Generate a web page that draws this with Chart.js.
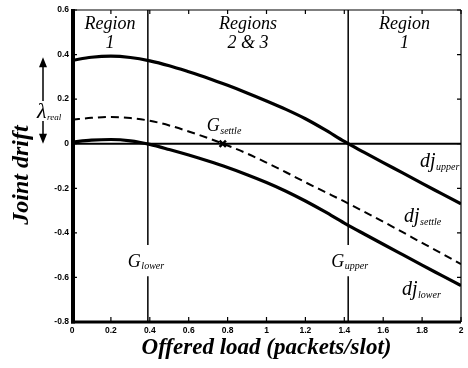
<!DOCTYPE html>
<html>
<head>
<meta charset="utf-8">
<script src="https://cdn.jsdelivr.net/npm/chart.js@4/dist/chart.umd.min.js"></script>
<style>
  html, body { margin: 0; padding: 0; background: #fff; }
  #wrap { width: 468px; height: 368px; }
</style>
</head>
<body>
<div id="wrap"><canvas id="c" width="468" height="368"></canvas></div>
<script>
// Offered load (packets/slot)
const loadX = [0, 0.1, 0.2, 0.3, 0.4, 0.5, 0.6, 0.7, 0.8, 0.9, 1.0,
               1.1, 1.2, 1.3, 1.4, 1.5, 1.6, 1.7, 1.8, 1.9, 2.0];
// Joint drift curves
const djUpper  = [0.374, 0.388, 0.393, 0.387, 0.372, 0.350, 0.323, 0.294, 0.262, 0.228, 0.192,
                  0.154, 0.112, 0.063, 0.010, -0.038, -0.085, -0.131, -0.178, -0.224, -0.270];
const djSettle = [0.108, 0.116, 0.120, 0.115, 0.103, 0.082, 0.055, 0.025, -0.008, -0.044, -0.085,
                  -0.128, -0.173, -0.216, -0.259, -0.304, -0.350, -0.397, -0.445, -0.492, -0.540];
const djLower  = [0.007, 0.016, 0.019, 0.013, -0.003, -0.026, -0.051, -0.078, -0.107, -0.139, -0.174,
                  -0.213, -0.257, -0.305, -0.356, -0.404, -0.451, -0.498, -0.545, -0.591, -0.637];
// Operating points
const gLower = 0.39;
const gSettle = 0.775;
const gUpper = 1.42;
// Vertical markers are interrupted around their labels
const markerGapTop = -0.455;
const markerGapBottom = -0.595;

const xMin = 0, xMax = 2, xStep = 0.2;
const yMin = -0.8, yMax = 0.6, yStep = 0.2;

const pts = (ys) => loadX.map((x, i) => ({ x: x, y: ys[i] }));
const vMarker = (g) => [
  { x: g, y: yMax }, { x: g, y: markerGapTop },
  { x: g, y: null },
  { x: g, y: markerGapBottom }, { x: g, y: yMin }
];
const tickLabel = (v) => String(Number(Number(v).toFixed(1)));

const SERIF = '"Liberation Serif", "Times New Roman", serif';
const SANS = '"Liberation Sans", Arial, sans-serif';

function subText(ctx, main, sub, x, y, mainSize, subSize, subDrop) {
  ctx.font = 'italic ' + mainSize + 'px ' + SERIF;
  ctx.textAlign = 'left';
  ctx.textBaseline = 'alphabetic';
  ctx.fillText(main, x, y);
  const w = ctx.measureText(main).width;
  ctx.font = 'italic ' + subSize + 'px ' + SERIF;
  ctx.fillText(sub, x + w + 0.5, y + subDrop);
}

const framePlugin = {
  id: 'frame',
  afterDraw(chart) {
    const ctx = chart.ctx;
    const a = chart.chartArea;
    const xs = chart.scales.x, ys = chart.scales.y;
    ctx.save();
    ctx.strokeStyle = '#000';
    ctx.fillStyle = '#000';

    // box
    ctx.lineWidth = 1.2;
    ctx.beginPath();
    ctx.moveTo(a.left, a.top); ctx.lineTo(a.right, a.top);
    ctx.moveTo(a.right, a.top); ctx.lineTo(a.right, a.bottom);
    ctx.stroke();
    ctx.lineWidth = 4;
    ctx.beginPath();
    ctx.moveTo(a.left + 1, a.top - 1); ctx.lineTo(a.left + 1, a.bottom + 1.5);
    ctx.stroke();
    ctx.lineWidth = 3;
    ctx.beginPath();
    ctx.moveTo(a.left - 1, a.bottom); ctx.lineTo(a.right, a.bottom);
    ctx.stroke();

    // inward ticks
    ctx.lineWidth = 1.2;
    ctx.beginPath();
    xs.ticks.forEach(t => {
      const px = xs.getPixelForValue(t.value);
      ctx.moveTo(px, a.bottom); ctx.lineTo(px, a.bottom - 5);
      ctx.moveTo(px, a.top); ctx.lineTo(px, a.top + 4);
    });
    ys.ticks.forEach(t => {
      const py = ys.getPixelForValue(t.value);
      ctx.moveTo(a.left, py); ctx.lineTo(a.left + 5, py);
      ctx.moveTo(a.right, py); ctx.lineTo(a.right - 4, py);
    });
    ctx.stroke();

    // y-axis title
    ctx.save();
    ctx.translate(22, 175);
    ctx.rotate(-Math.PI / 2);
    ctx.font = 'italic bold 24px ' + SERIF;
    ctx.textAlign = 'center';
    ctx.textBaseline = 'middle';
    ctx.fillText('Joint drift', 0, 0);
    ctx.restore();

    // region labels
    ctx.font = 'italic 18px ' + SERIF;
    ctx.textAlign = 'center';
    ctx.textBaseline = 'alphabetic';
    const xL = xs.getPixelForValue(gLower), xU = xs.getPixelForValue(gUpper);
    const c1 = (a.left + xL) / 2, c2 = (xL + xU) / 2, c3 = (xU + a.right) / 2;
    ctx.fillText('Region', c1, 29);
    ctx.fillText('1', c1, 48);
    ctx.fillText('Regions', c2, 29);
    ctx.fillText('2 & 3', c2, 48);
    ctx.fillText('Region', c3, 29);
    ctx.fillText('1', c3, 48);

    // operating point labels
    subText(ctx, 'G', 'lower', xL - 20, 267, 18, 10, 2);
    subText(ctx, 'G', 'upper', xU - 17, 267, 18, 10, 2);
    subText(ctx, 'G', 'settle', xs.getPixelForValue(gSettle) - 16, 131, 18, 10, 3);

    // curve labels
    subText(ctx, 'dj', 'upper', 420, 167, 20, 10, 3);
    subText(ctx, 'dj', 'settle', 404, 222, 20, 10, 3);
    subText(ctx, 'dj', 'lower', 402, 295, 20, 10, 3);

    // lambda_real arrows
    const ax = 43;
    const yTop = ys.getPixelForValue(Math.max.apply(null, djUpper)) + 1;
    const yZero = ys.getPixelForValue(0);
    ctx.lineWidth = 1.5;
    ctx.beginPath();
    ctx.moveTo(ax, 101); ctx.lineTo(ax, yTop + 9);
    ctx.moveTo(ax, 121); ctx.lineTo(ax, yZero - 9);
    ctx.stroke();
    ctx.beginPath();
    ctx.moveTo(ax, yTop); ctx.lineTo(ax - 4, yTop + 10); ctx.lineTo(ax + 4, yTop + 10); ctx.closePath();
    ctx.moveTo(ax, yZero); ctx.lineTo(ax - 4, yZero - 10); ctx.lineTo(ax + 4, yZero - 10); ctx.closePath();
    ctx.fill();
    subText(ctx, '\u03bb', 'real', 37, 118, 22, 9, 2);

    ctx.restore();
  }
};

new Chart(document.getElementById('c'), {
  type: 'line',
  data: {
    datasets: [
      { label: 'zero', data: [{ x: xMin, y: 0 }, { x: xMax, y: 0 }],
        borderColor: '#000', borderWidth: 2, pointRadius: 0 },
      { label: 'G lower', data: vMarker(gLower),
        borderColor: '#000', borderWidth: 1.5, pointRadius: 0, spanGaps: false },
      { label: 'G upper', data: vMarker(gUpper),
        borderColor: '#000', borderWidth: 1.5, pointRadius: 0, spanGaps: false },
      { label: 'dj upper', data: pts(djUpper),
        borderColor: '#000', borderWidth: 3.2, pointRadius: 0, tension: 0.4,
        cubicInterpolationMode: 'monotone' },
      { label: 'dj settle', data: pts(djSettle),
        borderColor: '#000', borderWidth: 2, borderDash: [8, 5], pointRadius: 0,
        tension: 0.4, cubicInterpolationMode: 'monotone' },
      { label: 'dj lower', data: pts(djLower),
        borderColor: '#000', borderWidth: 3.2, pointRadius: 0, tension: 0.4,
        cubicInterpolationMode: 'monotone' },
      { label: 'G settle', data: [{ x: gSettle, y: 0 }],
        showLine: false, pointStyle: 'crossRot', pointRadius: 4.5,
        borderColor: '#000', borderWidth: 2.5, backgroundColor: '#000' }
    ]
  },
  options: {
    responsive: false,
    animation: false,
    devicePixelRatio: 1,
    layout: { padding: { top: 10, right: 0.5, left: 0, bottom: 0 } },
    plugins: { legend: { display: false }, tooltip: { enabled: false } },
    scales: {
      x: {
        type: 'linear', min: xMin, max: xMax,
        grid: { display: false, drawTicks: false },
        border: { display: false },
        ticks: { stepSize: xStep, padding: 4, color: '#000', maxRotation: 0,
                 autoSkip: false, callback: tickLabel,
                 font: { family: SANS, size: 8.5, weight: 'bold' } },
        title: { display: true, text: 'Offered load (packets/slot)', color: '#000',
                 font: { family: SERIF, size: 23, style: 'italic', weight: 'bold' },
                 padding: { top: 0, bottom: 6 } },
        afterFit(scale) { scale.height = 46; scale.paddingLeft = 0; scale.paddingRight = 0; }
      },
      y: {
        type: 'linear', min: yMin, max: yMax,
        grid: { display: false, drawTicks: false },
        border: { display: false },
        ticks: { stepSize: yStep, padding: 3, color: '#000', autoSkip: false,
                 callback: tickLabel,
                 font: { family: SANS, size: 8.5, weight: 'bold' } },
        afterFit(scale) { scale.width = 72; scale.paddingTop = 0; scale.paddingBottom = 0; }
      }
    }
  },
  plugins: [framePlugin]
});
</script>
</body>
</html>
